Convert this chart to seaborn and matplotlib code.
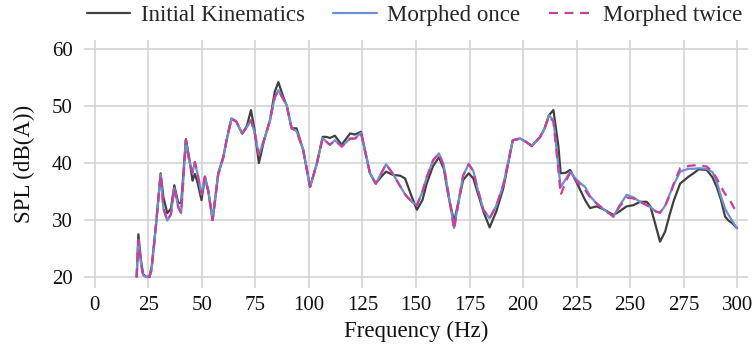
import matplotlib
matplotlib.use("Agg")
import matplotlib.pyplot as plt
import seaborn as sns
import pandas as pd

freq = [19.5, 20.3, 21.5, 22.5, 24, 25.5, 26.5, 28.5, 30.7, 32, 33.8, 35.5, 37.1, 38.9, 40.3,
        42.5, 44, 45.6, 46.7, 48, 49.8, 51.4, 53, 55, 57.6, 60, 61.5, 63.8, 66, 68.8, 71,
        72.9, 74.5, 76.6, 79, 81.8, 84, 85.7, 88, 89.6, 91.9, 94.2, 97.3, 100.5, 103.6,
        106.4, 108, 109.8, 112.1, 115.3, 119.2, 121.5, 124.3, 128.5, 131.2, 133.5, 136,
        139.4, 142.5, 144.9, 148, 150.4, 153, 155, 158, 160.7, 163, 165, 167.8, 170, 172,
        174.6, 176.8, 178.4, 181.5, 184.4, 187.5, 190.8, 195.2, 198.6, 201.5, 204.1, 208,
        210, 212.1, 214.2, 216.5, 217.6, 220, 222, 224.5, 226.7, 229, 231.3, 234.4, 238,
        242.2, 245, 248.4, 251.5, 254.7, 257.8, 259.5, 262, 264, 266.4, 268.7, 270.5,
        273.4, 277.3, 280, 282, 285.8, 288.5, 290.5, 292.5, 294.4, 296, 297.5, 300]

initial = [20.0, 27.5, 23.0, 20.5, 20.0, 20.1, 21.8, 29.0, 38.2, 34.0, 31.2, 32.0, 36.1, 33.0, 33.0,
           44.2, 41.0, 36.9, 38.1, 36.5, 33.5, 37.6, 35.0, 30.0, 38.2, 41.1, 44.0, 47.8, 47.3, 45.2, 46.5,
           49.3, 46.0, 40.0, 44.0, 47.5, 52.5, 54.2, 51.6, 50.1, 46.1, 46.1, 42.3, 35.8, 39.8,
           44.6, 44.6, 44.4, 44.8, 43.2, 45.2, 45.0, 45.5, 38.2, 36.4, 37.5, 38.5,
           37.9, 37.8, 37.3, 34.1, 31.8, 33.5, 36.4, 39.5, 41.0, 39.0, 34.5, 29.7, 33.5, 37.0,
           38.2, 37.3, 35.3, 31.5, 28.7, 31.5, 35.6, 44.0, 44.3, 43.7, 43.0, 44.6,
           46.0, 48.4, 49.3, 43.0, 38.2, 38.3, 38.8, 37.0, 35.3, 33.5, 32.1, 32.4, 31.8,
           30.9, 31.5, 32.4, 32.6, 33.2, 33.2, 32.4, 29.0, 26.2, 28.0, 31.2, 33.5,
           36.4, 37.6, 38.3, 38.9, 38.8, 37.5, 35.8, 33.5, 30.6, 29.9, 29.5, 28.6]

morphed_once = [20.0, 26.5, 22.5, 20.3, 20.0, 20.0, 21.3, 29.0, 38.0, 32.0, 29.9, 31.0, 35.6, 32.3, 31.2,
                44.0, 40.5, 38.3, 40.2, 38.0, 34.5, 37.6, 35.0, 30.0, 38.0, 41.0, 44.0, 47.8, 47.3, 45.2, 46.3,
                47.5, 45.5, 41.5, 44.0, 47.5, 51.5, 52.8, 51.2, 50.1, 46.1, 45.6, 42.3, 35.8, 39.8,
                44.4, 43.8, 43.2, 44.0, 42.9, 44.3, 44.3, 45.3, 38.2, 36.4, 38.0, 39.8,
                38.0, 36.0, 34.5, 33.2, 32.6, 35.0, 37.5, 40.5, 41.7, 39.5, 35.0, 28.6, 33.5, 37.8,
                39.8, 38.6, 36.0, 31.8, 30.3, 32.5, 36.2, 44.0, 44.3, 43.7, 43.0, 44.6,
                46.0, 48.4, 47.5, 39.4, 35.8, 37.2, 38.5, 37.3, 36.5, 35.8, 34.2, 32.9, 31.8,
                30.6, 32.5, 34.4, 34.0, 33.2, 32.6, 32.3, 31.5, 31.3, 32.5, 34.7, 36.3,
                38.5, 39.0, 39.0, 39.1, 39.0, 38.4, 36.8, 34.1, 32.0, 30.9, 30.0, 28.5]

morphed_twice = [20.0, 26.5, 22.5, 20.3, 20.0, 20.0, 21.3, 29.0, 38.0, 32.0, 29.9, 31.0, 35.6, 32.3, 31.2,
                 44.0, 40.5, 38.3, 40.2, 38.0, 34.5, 37.6, 35.0, 30.0, 38.0, 41.0, 44.0, 47.8, 47.3, 45.2, 46.3,
                 47.5, 45.5, 41.5, 44.0, 47.5, 51.5, 52.8, 51.2, 50.1, 46.1, 45.6, 42.3, 35.8, 39.8,
                 44.4, 43.8, 43.2, 44.0, 42.9, 44.3, 44.3, 45.3, 38.2, 36.4, 38.0, 39.8,
                 38.0, 36.0, 34.5, 33.2, 32.6, 35.0, 37.5, 40.5, 41.7, 39.5, 35.0, 28.3, 33.5, 37.8,
                 39.8, 38.6, 36.0, 31.8, 30.3, 32.5, 36.2, 44.0, 44.3, 43.7, 43.0, 44.6,
                 46.0, 48.2, 47.3, 38.8, 34.4, 36.8, 38.3, 37.0, 36.0, 35.3, 34.0, 32.9, 31.8,
                 30.6, 32.3, 33.9, 33.8, 33.2, 32.6, 32.3, 31.5, 31.3, 32.5, 34.5, 36.5,
                 39.1, 39.5, 39.6, 39.6, 39.4, 38.5, 37.3, 35.8, 34.6, 33.8, 32.9, 31.1]

series_names = ["Initial Kinematics", "Morphed once", "Morphed twice"]
x_ticks = [0, 25, 50, 75, 100, 125, 150, 175, 200, 225, 250, 275, 300]
y_ticks = [20, 30, 40, 50, 60]

sns.set_theme(style="whitegrid")
plt.rcParams["font.family"] = ["Liberation Serif", "DejaVu Serif"]

df = pd.DataFrame({"Frequency": freq,
                   series_names[0]: initial,
                   series_names[1]: morphed_once,
                   series_names[2]: morphed_twice})

fig = plt.figure(figsize=(7.56, 3.55), dpi=100)
ax = fig.add_axes([84 / 756, 1 - 288 / 355, (748 - 84) / 756, (288 - 40) / 355])

colors = ["#404040", "#6f8fcf", "#c8409f"]
styles = ["-", "-", (0, (4, 3))]
widths = [1.6, 1.6, 1.6]
for name, c, ls, lw in zip(series_names, colors, styles, widths):
    sns.lineplot(data=df, x="Frequency", y=name, ax=ax, color=c, linestyle=ls,
                 linewidth=lw, label=name, sort=False)

ax.set_xlim(-5.1, 305.1)
ax.set_ylim(18.07, 61.6)
ax.set_xticks(x_ticks)
ax.set_yticks(y_ticks)
for s in ax.spines.values():
    s.set_visible(False)
ax.grid(True, color="#d0d0d0", linewidth=1.1)
ax.tick_params(axis="both", length=0, labelsize=15, colors="#111111")
ax.tick_params(axis="x", pad=6)
ax.tick_params(axis="y", pad=8)
ax.set_xlabel("Frequency (Hz)", fontsize=16.5, color="#111111", labelpad=4)
ax.set_ylabel("SPL (dB(A))", fontsize=16.5, color="#111111", labelpad=12)

ax.legend(loc="center", bbox_to_anchor=(0.548, 0.955), bbox_transform=fig.transFigure,
          ncol=3, frameon=False, fontsize=16.5, handlelength=1.9, handletextpad=0.45,
          columnspacing=1.25, borderaxespad=0)

fig.savefig("out.png", dpi=100)
